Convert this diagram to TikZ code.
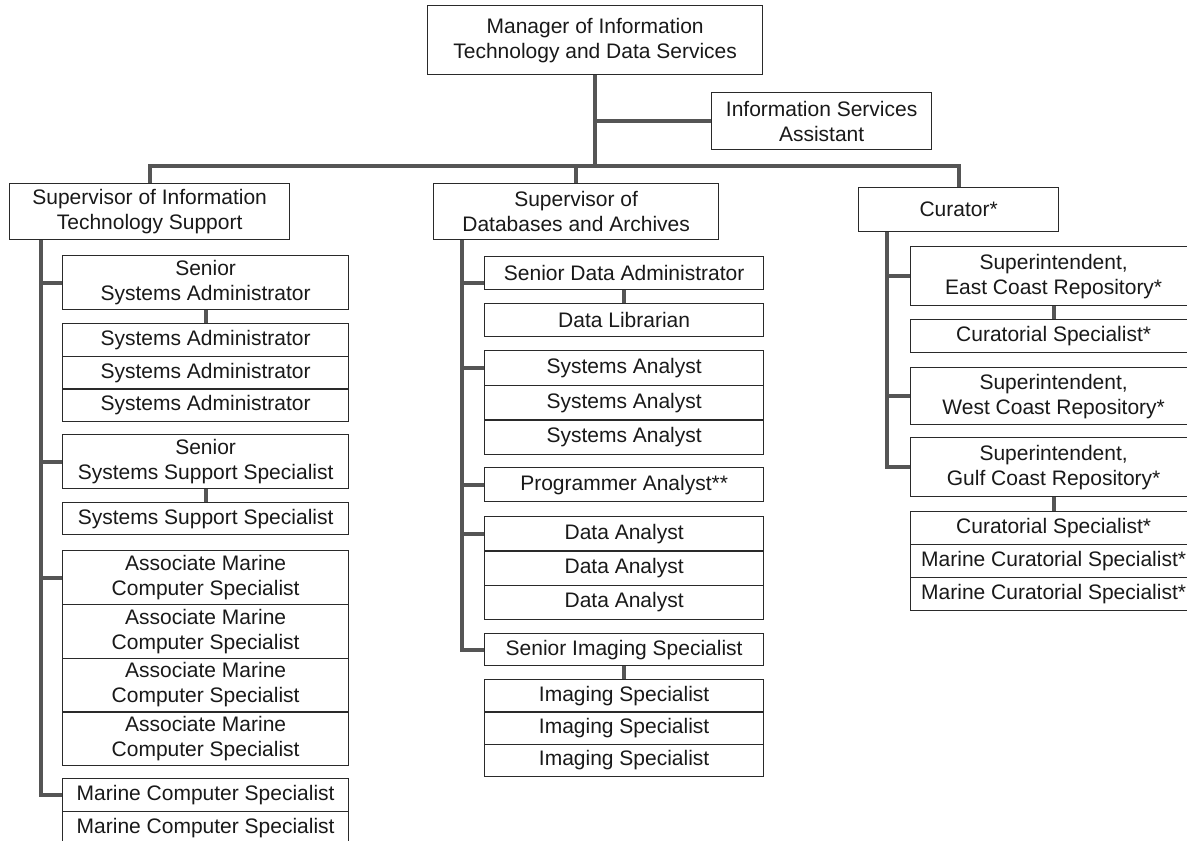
\documentclass[tikz,border=0pt]{standalone}
\usepackage{fontspec}
\setmainfont{Liberation Sans}
\usetikzlibrary{backgrounds}
\definecolor{linkgray}{HTML}{555555}
\definecolor{edgegray}{HTML}{2A2A2A}
\begin{document}
\begin{tikzpicture}[x=1pt,y=-1pt,
  box/.style={draw=edgegray, line width=1.3pt, fill=white, anchor=north west,
    align=center, inner sep=0pt, text=black!90,
    font=\fontsize{21}{25}\selectfont},
  lcol/.style={box, minimum width=286pt},
  mcol/.style={box, minimum width=279pt},
  rcol/.style={box, minimum width=286pt},
  conn/.style={draw=linkgray, line width=4pt},
]
\useasboundingbox (0,0) rectangle (1187,841);

% top level
\node[box, minimum width=335pt, minimum height=69pt] (mgr) at (427,5)
  {Manager of Information\\Technology and Data Services};
\node[box, minimum width=220pt, minimum height=57pt] (isa) at (711,92)
  {Information Services\\Assistant};
\node[box, minimum width=280pt, minimum height=56pt] (sit) at (9,183)
  {Supervisor of Information\\Technology Support};
\node[box, minimum width=285pt, minimum height=56pt] (sdb) at (433,183)
  {Supervisor of\\Databases and Archives};
\node[box, minimum width=200pt, minimum height=44pt] (cur) at (858,187)
  {Curator*};

% information technology support
\node[lcol, minimum height=54pt] (ssa) at (62,255) {Senior\\Systems Administrator};
\node[lcol, minimum height=32.7pt] (sa1) at (62,323) {Systems Administrator};
\node[lcol, minimum height=32.7pt] (sa2) at (62,355.7) {Systems Administrator};
\node[lcol, minimum height=32.7pt] (sa3) at (62,388.4) {Systems Administrator};
\node[lcol, minimum height=54pt] (sss) at (62,434) {Senior\\Systems Support Specialist};
\node[lcol, minimum height=32pt] (ss1) at (62,502) {Systems Support Specialist};
\node[lcol, minimum height=53.75pt] (am1) at (62,550) {Associate Marine\\Computer Specialist};
\node[lcol, minimum height=53.75pt] (am2) at (62,603.75) {Associate Marine\\Computer Specialist};
\node[lcol, minimum height=53.75pt] (am3) at (62,657.5) {Associate Marine\\Computer Specialist};
\node[lcol, minimum height=53.75pt] (am4) at (62,711.25) {Associate Marine\\Computer Specialist};
\node[lcol, minimum height=33pt] (mc1) at (62,778) {Marine Computer Specialist};
\node[lcol, minimum height=33pt] (mc2) at (62,811) {Marine Computer Specialist};

% databases and archives
\node[mcol, minimum height=33pt] (sda) at (484,256) {Senior Data Administrator};
\node[mcol, minimum height=33pt] (dl) at (484,303) {Data Librarian};
\node[mcol, minimum height=34.7pt] (san1) at (484,350) {Systems Analyst};
\node[mcol, minimum height=34.7pt] (san2) at (484,384.7) {Systems Analyst};
\node[mcol, minimum height=34.7pt] (san3) at (484,419.4) {Systems Analyst};
\node[mcol, minimum height=34pt] (pa) at (484,467) {Programmer Analyst**};
\node[mcol, minimum height=34.3pt] (da1) at (484,516) {Data Analyst};
\node[mcol, minimum height=34.3pt] (da2) at (484,550.3) {Data Analyst};
\node[mcol, minimum height=34.3pt] (da3) at (484,584.6) {Data Analyst};
\node[mcol, minimum height=32pt] (sis) at (484,633) {Senior Imaging Specialist};
\node[mcol, minimum height=32.3pt] (is1) at (484,679) {Imaging Specialist};
\node[mcol, minimum height=32.3pt] (is2) at (484,711.3) {Imaging Specialist};
\node[mcol, minimum height=32.3pt] (is3) at (484,743.6) {Imaging Specialist};

% curator
\node[rcol, minimum height=59pt] (sec) at (910,246) {Superintendent,\\East Coast Repository*};
\node[rcol, minimum height=33pt] (cs1) at (910,319) {Curatorial Specialist*};
\node[rcol, minimum height=57pt] (swc) at (910,367) {Superintendent,\\West Coast Repository*};
\node[rcol, minimum height=59pt] (sgc) at (910,437) {Superintendent,\\Gulf Coast Repository*};
\node[rcol, minimum height=33pt] (cs2) at (910,511) {Curatorial Specialist*};
\node[rcol, minimum height=33pt] (mcs1) at (910,544) {Marine Curatorial Specialist*};
\node[rcol, minimum height=33pt] (mcs2) at (910,577) {Marine Curatorial Specialist*};

\coordinate (bar) at (0,166);
\coordinate (itT) at ([xshift=32pt]sit.south west);
\coordinate (dbT) at ([xshift=29pt]sdb.south west);
\coordinate (cuT) at ([xshift=29pt]cur.south west);

\begin{pgfonlayer}{background}
  % reporting lines from the manager
  \draw[conn] (mgr.south) -- (mgr.south |- bar);
  \draw[conn] (mgr.south |- isa.west) -- (isa.west);
  \draw[conn] (sit.north) |- (bar -| cur.north) -- (cur.north);
  \draw[conn] (sdb.north) -- (sdb.north |- bar);
  % information technology support
  \draw[conn] (itT) |- (ssa.west);
  \draw[conn] (itT) |- (sss.west);
  \draw[conn] (itT) |- (am1.west);
  \draw[conn] (itT) |- (mc1.west);
  \draw[conn] (ssa.south) -- (sa1.north);
  \draw[conn] (sss.south) -- (ss1.north);
  % databases and archives
  \draw[conn] (dbT) |- ([yshift=-9.5pt]sda.west);
  \draw[conn] (dbT) |- (san1.west);
  \draw[conn] (dbT) |- (pa.west);
  \draw[conn] (dbT) |- (da1.west);
  \draw[conn] (dbT) |- (sis.west);
  \draw[conn] (sda.south) -- (dl.north);
  \draw[conn] (sis.south) -- (is1.north);
  % curator
  \draw[conn] (cuT) |- (sec.west);
  \draw[conn] (cuT) |- (swc.west);
  \draw[conn] (cuT) |- (sgc.west);
  \draw[conn] (sec.south) -- (cs1.north);
  \draw[conn] (sgc.south) -- (cs2.north);
\end{pgfonlayer}
\end{tikzpicture}
\end{document}
